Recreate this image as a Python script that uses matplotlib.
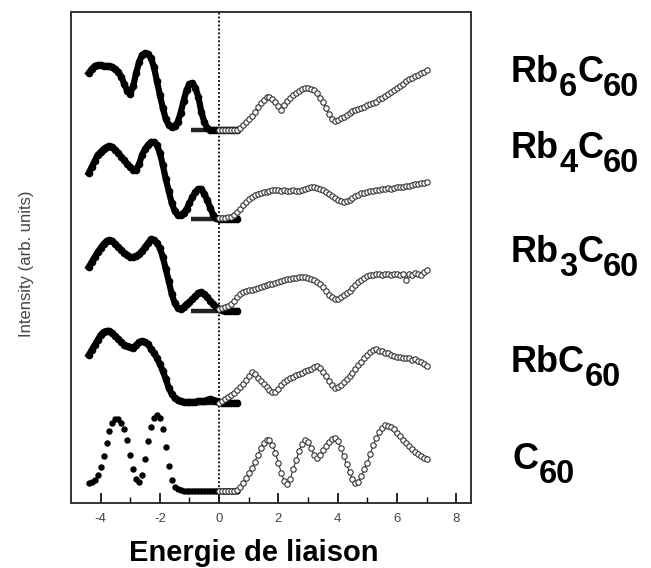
import numpy as np
import matplotlib.pyplot as plt

plt.rcParams["font.family"] = ["Liberation Sans", "DejaVu Sans"]
plt.rcParams["axes.unicode_minus"] = False

W, H = 651, 568

# energy grids (eV), 0.1 eV steps as in the spectra
E_OCC = np.round(np.arange(-4.4, 0.65, 0.1), 2)   # occupied side (filled symbols)
E_UNOCC = np.round(np.arange(0.0, 7.05, 0.1), 2)  # unoccupied side (open symbols)
BASELINE_RANGE = (-0.95, 0.63)

# compound labels: (text, is_subscript) pieces
LABEL_PARTS = [
    [("Rb", False), ("6", True), ("C", False), ("60", True)],
    [("Rb", False), ("4", True), ("C", False), ("60", True)],
    [("Rb", False), ("3", True), ("C", False), ("60", True)],
    [("RbC", False), ("60", True)],
    [("C", False), ("60", True)],
]
OFFSETS = [373, 284, 192, 100, 12]   # vertical offset of each spectrum (arb. units)

occ_rb6 = [57, 61, 64, 65, 65, 64, 64, 64, 63, 61, 58, 53, 46, 39, 36, 44, 57, 68, 75, 77,
           76, 72, 63, 49, 35, 22, 11, 5, 3, 4, 8, 17, 29, 40, 46, 47, 42, 33, 18, 8,
           2, 0, 0, 0, 0, 0, 0, 0, 0, 0, 0]
occ_rb4 = [46, 52, 58, 64, 67, 70, 72, 73, 72, 69, 66, 62, 59, 55, 52, 49, 49, 55, 64, 70,
           74, 77, 77, 74, 66, 54, 40, 28, 16, 8, 4, 4, 6, 10, 16, 22, 27, 30, 30, 25,
           19, 11, 4, 1, 0, 0, 0, 0, 0, 0, 0]
occ_rb3 = [44, 49, 54, 59, 63, 67, 70, 71, 70, 67, 64, 61, 58, 56, 54, 54, 55, 57, 60, 64,
           68, 72, 71, 68, 63, 54, 42, 30, 17, 8, 3, 2, 4, 7, 9, 12, 15, 18, 19, 17,
           14, 10, 7, 4, 2, 1, 0, 0, 0, 0, 0]
occ_rb1 = [48, 53, 58, 63, 68, 71, 72, 72, 70, 67, 64, 61, 58, 57, 56, 55, 58, 61, 62, 61,
           59, 54, 50, 45, 39, 32, 24, 15, 9, 5, 3, 2, 1, 1, 1, 1, 1, 2, 2, 2,
           3, 4, 3, 2, 1, 0, 0, 0, 0, 0, 0]
occ_c60 = [8, 9, 11, 16, 24, 35, 48, 60, 68, 72, 72, 68, 62, 51, 36, 22, 12, 9, 16, 32,
           50, 64, 73, 76, 73, 62, 44, 25, 11, 4, 2, 1, 0, 0, 0, 0, 0, 0, 0, 0,
           0, 0, 0, 0, 0, 0, 0, 0, 0, 0, 0]

unocc_rb6 = [0, 0, 0, 0, 0, 0, 0, 2, 5, 8, 11, 14, 18, 23, 27, 30, 33, 33, 31, 28,
             24, 20, 25, 29, 32, 35, 37, 39, 41, 42, 42, 41, 40, 37, 32, 28, 22, 16, 11, 9,
             10, 12, 13, 15, 17, 19, 20, 21, 22, 23, 25, 26, 27, 28, 31, 32, 34, 36, 38, 40,
             42, 44, 46, 49, 51, 52, 54, 55, 57, 58, 60]
unocc_rb4 = [1, 1, 1, 2, 2, 4, 7, 10, 14, 17, 20, 22, 24, 25, 26, 27, 27, 28, 29, 29,
             29, 28, 29, 28, 28, 29, 28, 28, 29, 30, 31, 32, 32, 31, 30, 29, 27, 25, 23, 21,
             19, 18, 17, 18, 19, 21, 23, 24, 26, 26, 27, 28, 28, 29, 29, 30, 30, 31, 30, 31,
             32, 32, 32, 33, 33, 34, 35, 35, 36, 36, 37]
unocc_rb3 = [2, 3, 4, 5, 7, 10, 14, 17, 19, 20, 21, 21, 22, 23, 24, 25, 26, 27, 27, 28,
             29, 30, 31, 32, 32, 33, 33, 34, 34, 34, 33, 32, 31, 29, 27, 24, 20, 16, 14, 12,
             12, 14, 16, 18, 20, 23, 26, 29, 31, 33, 35, 36, 36, 37, 37, 36, 37, 37, 36, 37,
             37, 36, 37, 31, 37, 36, 38, 37, 36, 39, 41]
unocc_rb1 = [0, 2, 4, 6, 8, 10, 13, 16, 19, 23, 27, 31, 29, 25, 22, 19, 16, 13, 11, 11,
             14, 18, 21, 23, 25, 26, 28, 29, 30, 32, 33, 34, 36, 37, 35, 31, 27, 22, 18, 15,
             16, 18, 21, 24, 27, 30, 34, 38, 41, 45, 48, 51, 53, 54, 52, 52, 50, 50, 48, 47,
             46, 46, 45, 45, 45, 43, 44, 42, 41, 39, 37]
unocc_c60 = [0, 0, 0, 0, 0, 0, 1, 4, 8, 13, 18, 23, 29, 36, 43, 48, 51, 51, 46, 38,
             28, 18, 10, 7, 12, 22, 31, 40, 47, 51, 49, 43, 36, 33, 36, 41, 45, 49, 52, 53,
             50, 43, 35, 27, 19, 12, 8, 9, 15, 22, 28, 37, 46, 53, 59, 63, 66, 65, 64, 62,
             58, 55, 51, 48, 45, 42, 39, 37, 35, 33, 32]

OCC = [occ_rb6, occ_rb4, occ_rb3, occ_rb1, occ_c60]
UNOCC = [unocc_rb6, unocc_rb4, unocc_rb3, unocc_rb1, unocc_c60]

fig = plt.figure(figsize=(W / 100, H / 100), dpi=100)
ax = fig.add_axes([0.109, 0.1144, 0.6145, 0.8645])

ax.axvline(0, color="black", linestyle=(0, (1, 1.2)), linewidth=1.3, zorder=1)

for i, (occ, unocc, off) in enumerate(zip(OCC, UNOCC, OFFSETS)):
    occ = np.asarray(occ, dtype=float) + off
    unocc = np.asarray(unocc, dtype=float) + off
    # baseline segment around the Fermi level
    ax.plot(BASELINE_RANGE, [off, off], color="#222222", linewidth=3.2,
            solid_capstyle="butt", zorder=2)
    if i < 4:
        ax.plot(E_OCC, occ, color="black", linewidth=4.5, marker="o",
                markersize=4.5, zorder=3)
    else:
        ax.plot(E_OCC, occ, linestyle="none", color="black", marker="o",
                markersize=3.6, zorder=3)
    ax.plot(E_UNOCC, unocc, color="#333333", linewidth=0.8, marker="o",
            markersize=3.9, markerfacecolor="white", markeredgecolor="#333333",
            markeredgewidth=0.8, zorder=4)

ax.set_xlim(-5, 8.5)
ax.set_ylim(0, 491)
ax.set_xticks([-4, -2, 0, 2, 4, 6, 8])
ax.set_xticks([-3, -1, 1, 3, 5, 7], minor=True)
ax.set_yticks([])
ax.tick_params(axis="x", which="major", direction="in", length=7, width=1.2,
               labelsize=9.5, labelcolor="#444444", pad=7, top=False)
ax.tick_params(axis="x", which="minor", direction="in", length=4, width=1.0, top=False)
for sp in ax.spines.values():
    sp.set_linewidth(1.4)
    sp.set_color("#333333")

# compound names on the right, built piece by piece (large subscripts)
renderer = fig.canvas.get_renderer()
main_size, sub_size, sub_drop = 26, 23.5, 14
label_x = [511, 511, 511, 511, 513]
label_base = [82, 158, 262, 372, 469]
for parts, x_px, base in zip(LABEL_PARTS, label_x, label_base):
    for s, is_sub in parts:
        yb = base + (sub_drop if is_sub else 0)
        t = fig.text(x_px / W, 1 - yb / H, s, fontsize=sub_size if is_sub else main_size,
                     fontweight="bold", ha="left", va="baseline")
        x_px += t.get_window_extent(renderer).width

fig.text(0.040, 0.535, "Intensity (arb. units)", rotation=90, ha="center", va="center",
         fontsize=12, color="#444444")
fig.text(0.39, 0.027, "Energie de liaison", ha="center", va="center",
         fontsize=21, fontweight="bold")

fig.savefig("out.png", dpi=100)
